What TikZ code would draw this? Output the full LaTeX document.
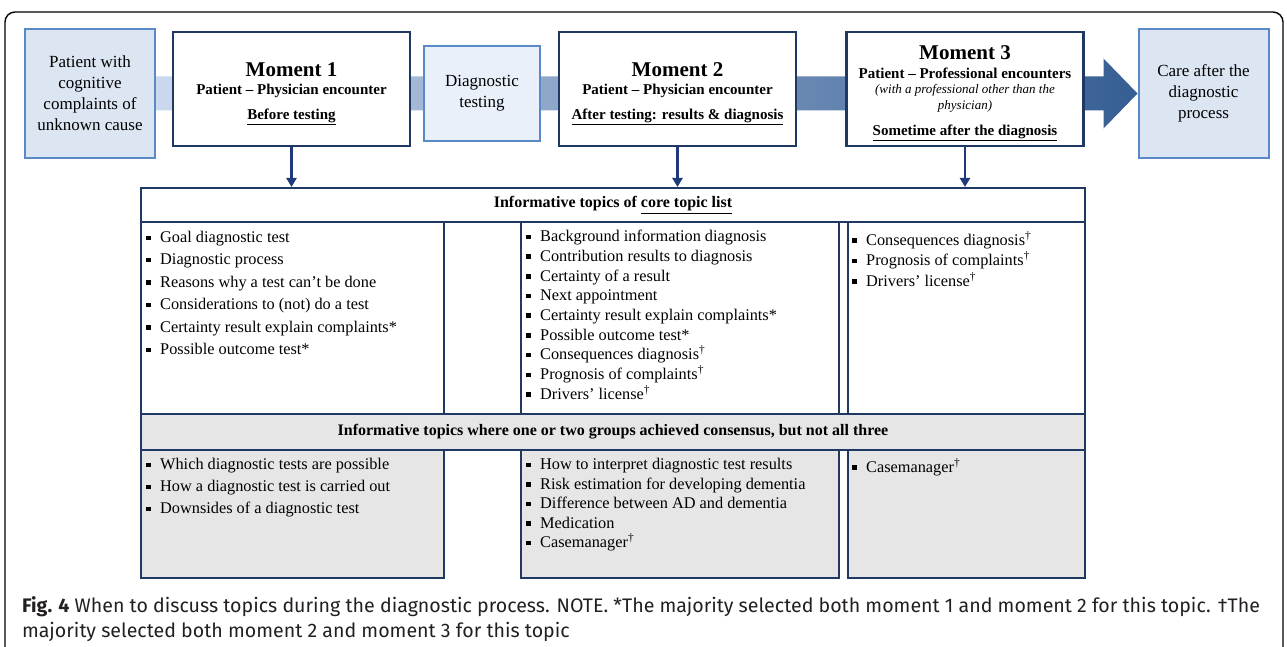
\documentclass[tikz,border=0pt]{standalone}
\usepackage{fontspec}
\setmainfont{Liberation Serif}
\newfontfamily\capfont{Fira Sans}
\usetikzlibrary{arrows.meta, calc, positioning}

\definecolor{navy}{HTML}{1F3864}
\definecolor{arrownavy}{HTML}{1F3A7A}
\definecolor{midblue}{HTML}{5A8AC6}
\definecolor{paleblue}{HTML}{DCE6F2}
\definecolor{paleblue2}{HTML}{EAF0FA}
\definecolor{bandlight}{HTML}{CAD9EE}
\definecolor{banddark}{HTML}{355E93}
\definecolor{cellgray}{HTML}{E6E6E6}
\definecolor{captext}{HTML}{231F20}

\newcommand{\bsq}{\makebox[14pt][l]{\rule[2.5pt]{4.5pt}{4.5pt}}}
\newcommand{\dg}{\textsuperscript{\textdagger}}

\tikzset{
  endbox/.style={draw=midblue, line width=2pt, fill=paleblue, minimum width=130pt, minimum height=129pt,
    align=center, inner sep=0pt, font=\fontsize{17}{21}\selectfont},
  testbox/.style={endbox, fill=paleblue2, minimum width=116pt, minimum height=95pt},
  momentbox/.style={draw=navy, line width=2.5pt, fill=white, minimum width=237pt, minimum height=114pt,
    align=center, inner sep=0pt, font=\bfseries\fontsize{15}{18}\selectfont},
  cell/.style={draw=navy, line width=2pt, inner sep=0pt, anchor=north west},
  graycell/.style={cell, fill=cellgray},
  headtext/.style={font=\bfseries\fontsize{16}{19}\selectfont, inner sep=0pt},
  listtext/.style={align=left, inner sep=0pt, anchor=north west},
  downarrow/.style={draw=arrownavy, line width=2.2pt, -{Triangle[width=10pt,length=9pt]}}
}

\begin{document}
\begin{tikzpicture}[x=1pt, y=-1pt]
\useasboundingbox (0,0) rectangle (1287,647);

% frame
\draw[line width=1.4pt, rounded corners=10pt] (5,647) -- (5,12) -- (1283,12) -- (1283,647);

% boxes at the two ends
\node[endbox] (patient) at (90,93.5) {Patient with\\cognitive\\complaints of\\unknown cause};
\node[endbox] (care) at (1203.5,93.5) {Care after the\\diagnostic\\process};

% big arrow behind the row
\shade[left color=bandlight, right color=banddark]
  ($(patient.east)+(0,-17)$) -- ($(care.west)+(-34,-17)$) -- ($(care.west)+(-34,-35)$) -- (care.west)
  -- ($(care.west)+(-34,35)$) -- ($(care.west)+(-34,17)$) -- ($(patient.east)+(0,17)$) -- cycle;

\node[momentbox] (m1) at (291.5,89) {\rule{0pt}{24pt}{\fontsize{21}{24}\selectfont Moment 1}\\[0pt]
  Patient -- Physician encounter\\[7pt]\underline{Before testing}};
\node[testbox] (test) at (482,93.5) {Diagnostic\\testing};
\node[momentbox] (m2) at (677.5,89) {\rule{0pt}{24pt}{\fontsize{21}{24}\selectfont Moment 2}\\[0pt]
  Patient -- Physician encounter\\[7pt]\underline{After testing: results \& diagnosis}};
\node[momentbox] (m3) at (965,89) {\rule{0pt}{22pt}{\fontsize{21}{24}\selectfont Moment 3}\\[1pt]
  Patient -- Professional encounters\\[-3pt]
  {\mdseries\itshape\fontsize{13}{15}\selectfont (with a professional other than the}\\[-2pt]
  {\mdseries\itshape\fontsize{13}{15}\selectfont physician)}\\[8pt]
  \underline{Sometime after the diagnosis}};

% table
\node[cell, minimum width=944pt, minimum height=34pt] (corehead) at (140,187) {};
\node[headtext] (coretitle) at (corehead.center) {Informative topics of \underline{core topic list}};
\node[cell, minimum width=303pt, minimum height=192pt] (core1) at (140,221) {};
\node[cell, minimum width=77pt, minimum height=192pt] (coregap1) at (443,221) {};
\node[cell, minimum width=318pt, minimum height=192pt] (core2) at (520,221) {};
\node[cell, minimum width=9pt, minimum height=192pt] (coregap2) at (838,221) {};
\node[cell, minimum width=237pt, minimum height=192pt] (core3) at (847,221) {};

\node[graycell, minimum width=944pt, minimum height=36pt] (parthead) at (140,413) {};
\node[headtext] (parttitle) at (parthead.center)
  {Informative topics where one or two groups achieved consensus, but not all three};
\node[graycell, minimum width=303pt, minimum height=128pt] (part1) at (140,449) {};
\node[graycell, minimum width=318pt, minimum height=128pt] (part2) at (520,449) {};
\node[graycell, minimum width=237pt, minimum height=128pt] (part3) at (847,449) {};

\draw[downarrow] (m1.south) -- (m1.south |- corehead.north);
\draw[downarrow] (m2.south) -- (m2.south |- corehead.north);
\draw[downarrow] (m3.south) -- (m3.south |- corehead.north);

% topic lists
\node[listtext, font=\fontsize{16.3}{22.4}\selectfont] (core1txt) at ($(core1.north west)+(6,10)$)
  {\bsq Goal diagnostic test\\ \bsq Diagnostic process\\ \bsq Reasons why a test can’t be done\\
   \bsq Considerations to (not) do a test\\ \bsq Certainty result explain complaints*\\
   \bsq Possible outcome test*};
\node[listtext, font=\fontsize{16.3}{19.7}\selectfont] (core2txt) at ($(core2.north west)+(6,9)$)
  {\bsq Background information diagnosis\\ \bsq Contribution results to diagnosis\\
   \bsq Certainty of a result\\ \bsq Next appointment\\ \bsq Certainty result explain complaints*\\
   \bsq Possible outcome test*\\ \bsq Consequences diagnosis\dg\\ \bsq Prognosis of complaints\dg\\
   \bsq Drivers’ license\dg};
\node[listtext, font=\fontsize{16.3}{20.5}\selectfont] (core3txt) at ($(core3.north west)+(5,10)$)
  {\bsq Consequences diagnosis\dg\\ \bsq Prognosis of complaints\dg\\ \bsq Drivers’ license\dg};

\node[listtext, font=\fontsize{16.3}{22}\selectfont] (part1txt) at ($(part1.north west)+(6,9)$)
  {\bsq Which diagnostic tests are possible\\ \bsq How a diagnostic test is carried out\\
   \bsq Downsides of a diagnostic test};
\node[listtext, font=\fontsize{16.3}{19.5}\selectfont] (part2txt) at ($(part2.north west)+(6,9)$)
  {\bsq How to interpret diagnostic test results\\ \bsq Risk estimation for developing dementia\\
   \bsq Difference between AD and dementia\\ \bsq Medication\\ \bsq Casemanager\dg};
\node[listtext, font=\fontsize{16.3}{19.5}\selectfont] (part3txt) at ($(part3.north west)+(5,9)$)
  {\bsq Casemanager\dg};

% caption
\node[anchor=north west, align=left, inner sep=0pt, text=captext, font=\capfont\fontsize{19.6}{25.5}\selectfont]
  (caption) at (22,596) {\textbf{Fig. 4} When to discuss topics during the diagnostic process. NOTE. *The majority
  selected both moment 1 and moment 2 for this topic. †The\\majority selected both moment 2 and moment 3 for this topic};
\end{tikzpicture}
\end{document}
